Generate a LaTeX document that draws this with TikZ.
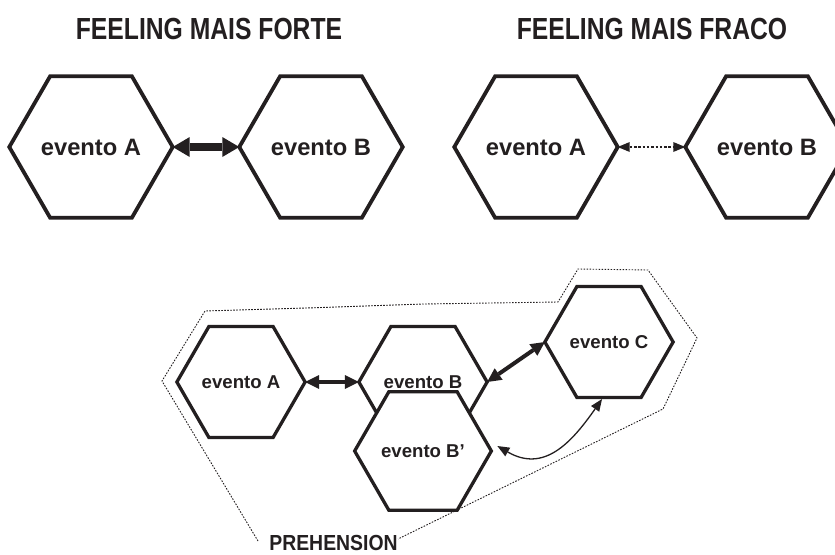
\documentclass[tikz,border=0pt]{standalone}
\usepackage{fontspec}
\setmainfont{Liberation Sans}
\newfontfamily\narrowsans[FakeStretch=0.81]{Liberation Sans}
\newfontfamily\labelsans[FakeStretch=0.89]{Liberation Sans}
\usetikzlibrary{shapes.geometric,arrows.meta}
\definecolor{ink}{HTML}{231F20}
\tikzset{
  hexagon/.style={regular polygon, regular polygon sides=6,
    inner sep=0pt, outer sep=0pt, draw=ink, fill=white, text=ink, line join=miter},
  hexbig/.style={hexagon, minimum size=160pt, line width=3.8pt,
    font=\fontsize{23.7}{26}\selectfont\bfseries},
  hexsmall/.style={hexagon, minimum size=128pt, line width=3.3pt,
    font=\fontsize{18.6}{21}\selectfont\bfseries},
  heading/.style={anchor=base, text=ink, inner sep=0pt,
    font=\narrowsans\fontsize{30.5}{33}\selectfont\bfseries},
  strongtie/.style={draw=ink, line width=8.5pt, <->,
    >={Triangle[length=17pt,width=20pt,line width=0pt]}},
  weaktie/.style={draw=ink, line width=1.4pt, dash pattern=on 2.5pt off 1.8pt, <->,
    >={Triangle[length=12pt,width=10pt,line width=0pt]}},
  tie/.style={draw=ink, line width=4pt, <->,
    >={Triangle[length=14pt,width=14pt,line width=0pt]}},
  thintie/.style={draw=ink, line width=1.3pt, <->,
    >={Triangle[length=12pt,width=10pt,line width=0pt]}},
  boundary/.style={draw=ink, line width=0.9pt, dash pattern=on 1.6pt off 1.4pt,
    line join=miter},
}
\begin{document}
\begin{tikzpicture}[x=1pt, y=-1pt]
\useasboundingbox (0,0) rectangle (835,554);

% headings
\node[heading] (hstrong) at (209,39.3) {FEELING MAIS FORTE};
\node[heading] (hweak)   at (652,39.3) {FEELING MAIS FRACO};

% stronger feeling
\node[hexbig] (sA) at (91,147)  {evento A};
\node[hexbig] (sB) at (321,147) {evento B};
\draw[strongtie] (sA.east) -- (sB.west);

% weaker feeling
\node[hexbig] (wA) at (536,147) {evento A};
\node[hexbig] (wB) at (767,147) {evento B};
\draw[weaktie] (wA.east) -- (wB.west);

% prehension
\node[anchor=base, inner sep=0pt, text=ink,
  font=\labelsans\fontsize{21.8}{24}\selectfont\bfseries] (pre) at (333.5,550.8) {PREHENSION};
\draw[boundary] (258,541) -- (162,381) -- (205,311) -- (316,307.7) -- (423,304)
  -- (558,302) -- (578,269) -- (648,270) -- (697,338) -- (663,409) -- (398,539);

\node[hexsmall] (pA) at (241,382) {evento A};
\node[hexsmall] (pB) at (423,382) {evento B};
\node[hexsmall] (pBp) at (423,451) {evento B’};
\node[hexsmall] (pC) at (609,342) {evento C};

\draw[tie] (pA.east) -- (pB.west);
\draw[tie] (pB.east) -- (pC.west);
\draw[thintie] ([shift={(6,-5)}]pBp.east) to[out=-30, in=235, looseness=1.2]
  ([shift={(-7,1.5)}]pC.south);
\end{tikzpicture}
\end{document}
